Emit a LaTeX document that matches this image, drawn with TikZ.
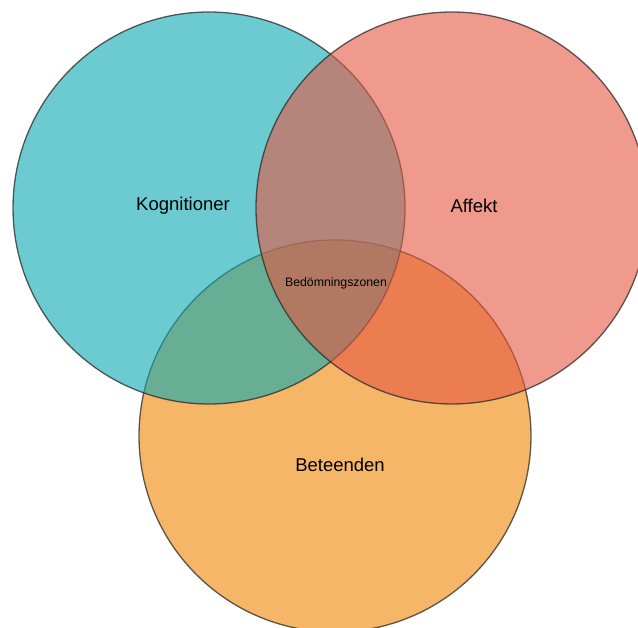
\documentclass[tikz,border=0pt]{standalone}
\usepackage{fontspec}
\setmainfont{Liberation Sans}
\definecolor{cogc}{RGB}{10,168,178}
\definecolor{affc}{RGB}{230,87,67}
\definecolor{behc}{RGB}{238,133,3}
\definecolor{edgec}{RGB}{40,40,40}
\begin{document}
\begin{tikzpicture}[x=1pt,y=-1pt,
  venn/.style={circle,draw=edgec,line width=1.3pt,fill opacity=0.6,draw opacity=0.75,minimum size=392pt,inner sep=0pt},
  biglabel/.style={font=\fontsize{18.5}{20}\selectfont,text=black},
  smalllabel/.style={font=\fontsize{12.3}{14}\selectfont,text=black}]
\useasboundingbox (0,0) rectangle (638,628);
\node[venn,fill=behc] (beh) at (335,436) {};
\node[venn,fill=cogc] (cog) at (209,208) {};
\node[venn,fill=affc] (aff) at (452,208) {};
\node[biglabel] (lcog) at (183,206) {Kognitioner};
\node[biglabel] (laff) at (474,206) {Affekt};
\node[biglabel] (lbeh) at (340,465) {Beteenden};
\node[smalllabel] (lmid) at (336,283) {Bedömningszonen};
\end{tikzpicture}
\end{document}
